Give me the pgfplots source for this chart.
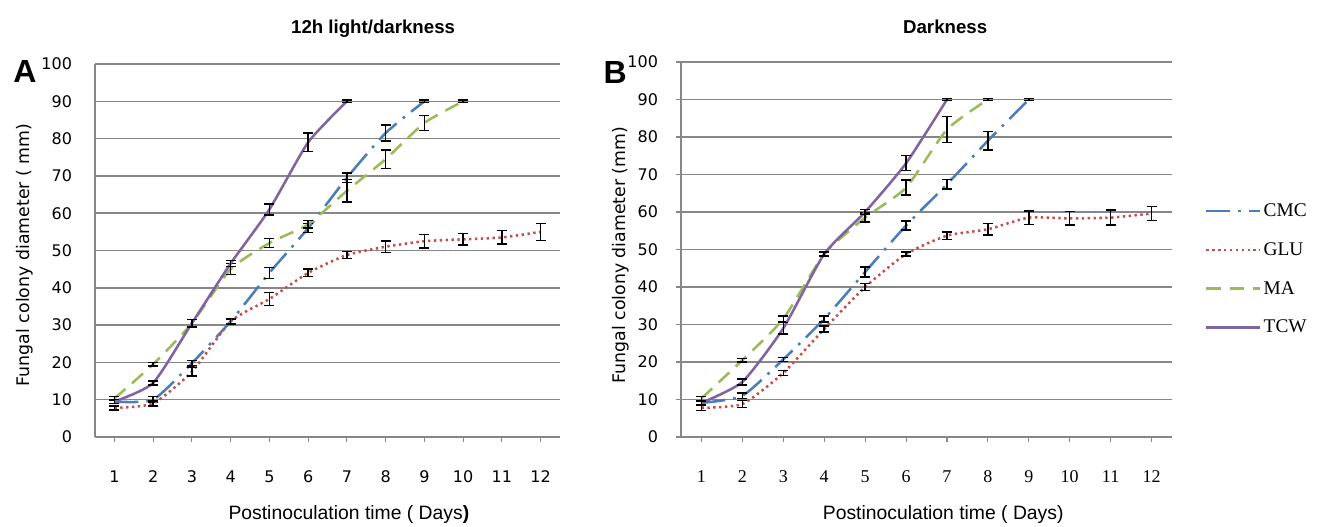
\documentclass[border=0pt]{standalone}
\usepackage{pgfplots}
\pgfplotsset{compat=1.18}
\usepackage{pgfplotstable}
\usepackage{fontspec}
\setmainfont{Liberation Sans}
\newfontfamily\dejavu{DejaVu Sans}
\newfontfamily\tnr{Liberation Serif}

\definecolor{cmc}{HTML}{4A7EBB}
\definecolor{glu}{HTML}{C0504D}
\definecolor{ma}{HTML}{9BBB59}
\definecolor{tcw}{HTML}{8064A2}
\definecolor{gridgray}{HTML}{878787}

% Panel A: 12h light/darkness
\pgfplotstableread{
x y e
1 9.5 0.5
2 10 0.8
3 19.8 0.7
4 31 0.5
5 44 1.5
6 56 1.2
7 69.5 1.3
8 81.5 2.2
9 90 0.3
}\cmcA
\pgfplotstableread{
x y e
1 7.8 0.5
2 9 0.7
3 17.5 1.2
4 31 0.8
5 37 1.7
6 44 1
7 48.8 1
8 51 1.5
9 52.5 1.8
10 53 1.5
11 53.5 1.8
12 55 2.3
}\gluA
\pgfplotstableread{
x y e
1 10.3 0.5
2 19.5 0.5
3 30.5 1
4 45 1.5
5 52 1.2
6 57 1
7 66 3
8 74.5 2.5
9 84.2 2
10 90 0.3
}\maA
\pgfplotstableread{
x y e
1 9.5 0.5
2 14.5 0.5
3 30.5 1
4 46.5 0.8
5 61 1.5
6 79 2.5
7 90 0.3
}\tcwA

% Panel B: Darkness
\pgfplotstableread{
x y e
1 9.1 0.6
2 11 0.7
3 20.7 0.5
4 31.5 0.8
5 44 1.3
6 56.4 1.2
7 67.4 1.3
8 79 2.5
9 90 0.3
}\cmcB
\pgfplotstableread{
x y e
1 7.8 0.7
2 8.8 1
3 17.1 0.7
4 28.8 0.8
5 40 1
6 48.8 0.5
7 53.7 1
8 55.4 1.5
9 58.5 1.8
10 58.3 1.8
11 58.5 2
12 59.6 1.8
}\gluB
\pgfplotstableread{
x y e
1 10.3 0.5
2 20.5 0.5
3 31.5 0.8
4 48.8 0.5
5 58.5 1.2
6 66.5 2
7 82 3.5
8 90 0.3
}\maB
\pgfplotstableread{
x y e
1 9.1 0.5
2 14.7 0.8
3 29 1.5
4 48.8 0.5
5 60 0.6
6 73 2
7 90 0.3
}\tcwB

\pgfplotsset{
  common/.style={
    scale only axis,
    xmin=0.5, xmax=12.5, ymin=0, ymax=100,
    xtick={1,...,12}, ytick={0,10,...,100},
    axis x line*=bottom, axis y line*=left,
    axis line style={gridgray, line width=1.1pt, -},
    ymajorgrids, grid style={gridgray, line width=1.1pt},
    tick align=outside, major tick length=3.75pt,
    tick style={gridgray, line width=0.8pt},
    clip=false,
    /pgf/number format/assume math mode=true,
    yticklabel style={font=\dejavu\fontsize{12}{14}\selectfont, xshift=-10pt},
    error bars/y dir=both, error bars/y explicit,
    error bars/error bar style={black, line width=1.1pt, solid},
    error bars/error mark options={rotate=90, black, mark size=3.75pt, line width=1.1pt, solid},
  },
  cmcS/.style={cmc, line width=1.9pt, dash pattern=on 18pt off 6pt on 2pt off 6pt},
  gluS/.style={glu, line width=1.9pt, dash pattern=on 1.8pt off 2.6pt},
  maS/.style={ma, line width=1.9pt, dash pattern=on 11pt off 6.5pt},
  tcwS/.style={tcw, line width=1.9pt, solid},
}

\begin{document}
\begin{tikzpicture}
\useasboundingbox (0,0) rectangle (990pt,-394.5pt);

% ---------- Panel A ----------
\begin{axis}[common,
  at={(71.25pt,-327.75pt)}, anchor=south west,
  width=348.75pt, height=279.75pt,
  ytick style={draw=none},
  xticklabel style={font=\dejavu\fontsize{12}{14}\selectfont, yshift=-18pt},
  title={12h light/darkness},
  title style={at={(0.598,1)}, anchor=center, yshift=20.25pt, font=\bfseries\fontsize{14}{16}\selectfont},
  xlabel={Postinoculation time ( Days\textbf{)}},
  xlabel style={at={(0.546,0)}, anchor=center, yshift=-58pt, font=\fontsize{14.5}{17}\selectfont},
  ylabel={Fungal colony diameter ( mm)},
  ylabel style={at={(-0.1505,0.488)}, anchor=center, font=\dejavu\fontsize{13}{15}\selectfont},
]
\addplot[cmcS, smooth, tension=0.35] table[x=x, y=y, y error=e] {\cmcA};
\addplot[gluS, smooth, tension=0.35] table[x=x, y=y, y error=e] {\gluA};
\addplot[maS, smooth, tension=0.35] table[x=x, y=y, y error=e] {\maA};
\addplot[tcwS, smooth, tension=0.35] table[x=x, y=y, y error=e] {\tcwA};
\node[font=\bfseries\fontsize{24}{26}\selectfont] at (rel axis cs:-0.1505,0.979) {A};
\end{axis}

% ---------- Panel B ----------
\begin{axis}[common,
  at={(510.75pt,-327.75pt)}, anchor=south west,
  width=368.25pt, height=281.25pt,
  xticklabel style={font=\tnr\fontsize{13.5}{15}\selectfont, yshift=-18pt},
  title={Darkness},
  title style={at={(0.538,1)}, anchor=center, yshift=20.25pt, font=\bfseries\fontsize{14}{16}\selectfont},
  xlabel={Postinoculation time ( Days)},
  xlabel style={at={(0.534,0)}, anchor=center, yshift=-58pt, font=\fontsize{14.5}{17}\selectfont},
  ylabel={Fungal colony diameter (mm)},
  ylabel style={at={(-0.122,0.485)}, anchor=center, font=\dejavu\fontsize{13}{15}\selectfont},
  legend style={at={(1.067,0.63)}, anchor=north west, draw=none, fill=none,
    font=\tnr\fontsize{14.5}{17}\selectfont, row sep=14pt, inner sep=0pt},
  legend cell align=left,
  legend image code/.code={\draw[#1] (0pt,0pt) -- (40pt,0pt);},
]
\addplot[cmcS, smooth, tension=0.35] table[x=x, y=y, y error=e] {\cmcB};
\addlegendentry{CMC}
\addplot[gluS, smooth, tension=0.35] table[x=x, y=y, y error=e] {\gluB};
\addlegendentry{GLU}
\addplot[maS, smooth, tension=0.35] table[x=x, y=y, y error=e] {\maB};
\addlegendentry{MA}
\addplot[tcwS, smooth, tension=0.35] table[x=x, y=y, y error=e] {\tcwB};
\addlegendentry{TCW}
\node[font=\bfseries\fontsize{24}{26}\selectfont] at (rel axis cs:-0.134,0.973) {B};
\end{axis}
\end{tikzpicture}
\end{document}
